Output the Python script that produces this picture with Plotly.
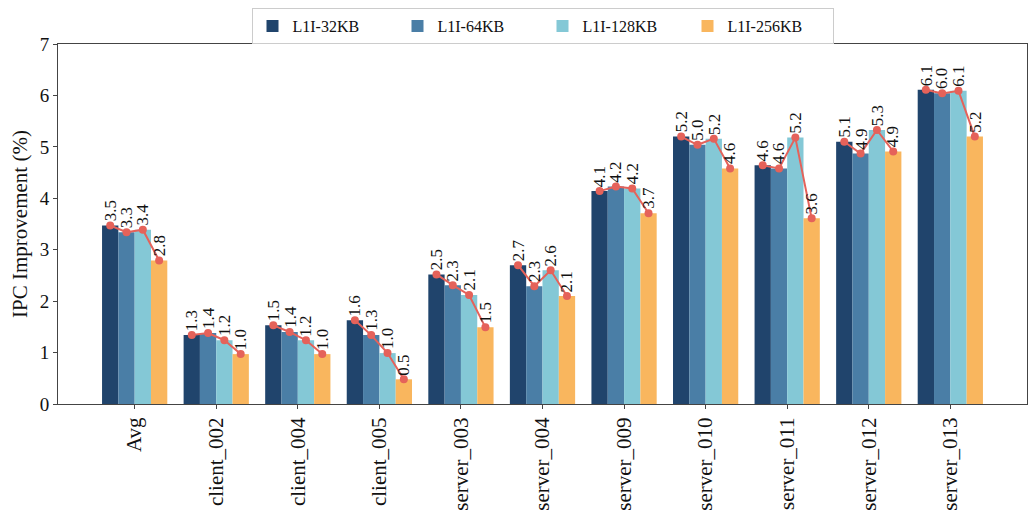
import numpy as np
import plotly.graph_objects as go

# Workloads on the x axis
categories = ["Avg", "client_002", "client_004", "client_005", "server_003",
              "server_004", "server_009", "server_010", "server_011",
              "server_012", "server_013"]

# IPC improvement (%) per L1I size
series_names = ["L1I-32KB", "L1I-64KB", "L1I-128KB", "L1I-256KB"]
l1i_32kb = [3.47, 1.34, 1.53, 1.63, 2.52, 2.70, 4.14, 5.20, 4.64, 5.10, 6.11]
l1i_64kb = [3.34, 1.38, 1.40, 1.34, 2.31, 2.29, 4.23, 5.04, 4.58, 4.87, 6.04]
l1i_128kb = [3.39, 1.24, 1.24, 0.99, 2.12, 2.60, 4.19, 5.16, 5.18, 5.33, 6.09]
l1i_256kb = [2.79, 0.97, 0.97, 0.48, 1.49, 2.10, 3.71, 4.58, 3.61, 4.91, 5.20]

colors = ["#20446c", "#4a7ea6", "#84c8d6", "#f9b65e"]
line_color = "#e5625a"
font_family = "Liberation Serif"

all_series = [l1i_32kb, l1i_64kb, l1i_128kb, l1i_256kb]
n_series = len(all_series)
bar_w = 0.2
offsets = [(k - (n_series - 1) / 2) * bar_w for k in range(n_series)]
xc = np.arange(len(categories))

fig = go.Figure()
for k, (name, vals) in enumerate(zip(series_names, all_series)):
    fig.add_trace(go.Bar(
        x=xc + offsets[k], y=vals, width=bar_w, name=name,
        marker=dict(color=colors[k], line=dict(width=0)),
    ))

# Trend line within each workload across the four L1I sizes
lx, ly = [], []
for i in range(len(categories)):
    for k in range(n_series):
        lx.append(xc[i] + offsets[k])
        ly.append(all_series[k][i])
    lx.append(None)
    ly.append(None)
fig.add_trace(go.Scatter(
    x=lx, y=ly, mode="lines+markers", showlegend=False, connectgaps=False,
    line=dict(color=line_color, width=2),
    marker=dict(color=line_color, size=8),
    hoverinfo="skip",
))

# Rotated value labels above each bar
for k, vals in enumerate(all_series):
    for i, v in enumerate(vals):
        fig.add_annotation(
            x=xc[i] + offsets[k], y=v, text=f"{v:.1f}", showarrow=False,
            textangle=-90, xanchor="center", yanchor="bottom", yshift=2,
            font=dict(family=font_family, size=17, color="#111"),
        )

fig.update_layout(
    width=1031, height=516,
    margin=dict(l=58, r=4, t=44, b=112),
    paper_bgcolor="white", plot_bgcolor="white",
    barmode="overlay",
    font=dict(family=font_family, size=17, color="#111"),
    showlegend=True,
    legend=dict(
        orientation="h", x=0.5, xanchor="center", y=1.0, yanchor="bottom",
        bordercolor="#cccccc", borderwidth=1, bgcolor="white",
        font=dict(family=font_family, size=16),
        entrywidth=100, traceorder="normal",
    ),
    xaxis=dict(
        range=[-0.94, 10.94], tickmode="array", tickvals=list(xc),
        ticktext=categories, tickangle=-90, ticks="outside", ticklen=4,
        tickcolor="#444", showgrid=False, zeroline=False,
        showline=True, linecolor="#444", linewidth=1, mirror=True,
        tickfont=dict(family=font_family, size=21),
    ),
    yaxis=dict(
        range=[0, 7], dtick=1, ticks="outside", ticklen=4, tickcolor="#444",
        showgrid=False, zeroline=False,
        showline=True, linecolor="#444", linewidth=1, mirror=True,
        title=dict(text="IPC Improvement (%)", font=dict(family=font_family, size=21), standoff=6),
        tickfont=dict(family=font_family, size=19),
    ),
)

fig.write_html("out.html")
